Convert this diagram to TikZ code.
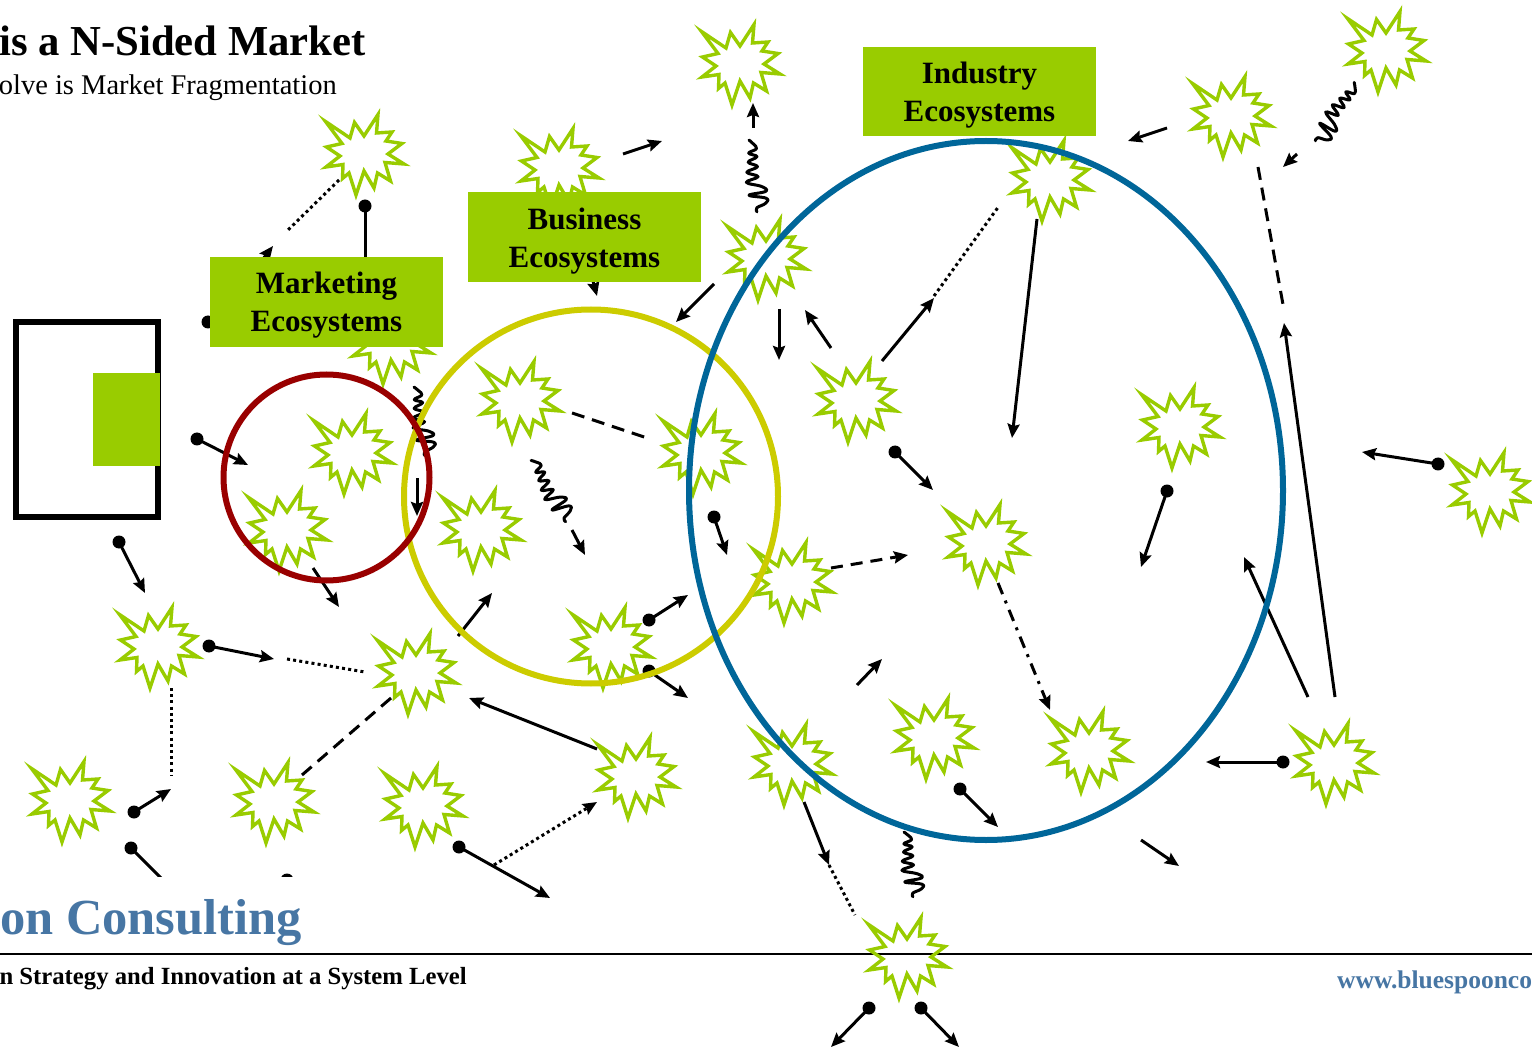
\documentclass[tikz,border=0pt]{standalone}
\usepackage{fontspec}
\setmainfont{Liberation Serif}
\usetikzlibrary{arrows.meta}
\definecolor{leaf}{HTML}{99CC00}
\definecolor{ringred}{HTML}{990000}
\definecolor{ringyellow}{HTML}{CCCC00}
\definecolor{ringblue}{HTML}{006699}
\definecolor{brandblue}{HTML}{4776A4}
\tikzset{
  burst/.pic={\draw[leaf,line width=3.4pt,miter limit=10]
    (-39.5,-31.5)--(-15,-15)--(-10.5,-30.5)--(-1,-17)--(13,-38.5)--(11.5,-20)--(27,-21)--(21,-12)--(37,-9.5)--(23,1)--(39,11)--(20,9.5)--(25.5,28)--(12.5,20)--(9,35)--(-1,18)--(-9,42)--(-16,20)--(-22.5,25.5)--(-22,11.5)--(-39,14)--(-25,3)--(-38.5,-6)--(-23,-9.5)--cycle;},
  solidarrow/.style={line width=3pt,-{Stealth[length=14pt,width=12pt,inset=2pt]}},
  dotarrow/.style={solidarrow,dash pattern=on 3pt off 3.2pt},
  dasharrow/.style={solidarrow,dash pattern=on 12pt off 8pt},
  dashdotarrow/.style={solidarrow,dash pattern=on 12pt off 7pt on 3pt off 7pt},
  dotline/.style={line width=3pt,dash pattern=on 3pt off 3.2pt},
  dashline/.style={line width=3pt,dash pattern=on 13pt off 8pt},
  plainline/.style={line width=3pt},
  enddot/.style={circle,fill=black,inner sep=0pt,minimum size=13pt},
  squiggle/.style={line width=3pt,line cap=round,line join=round},
  ring/.style={line width=6pt},
  labelbox/.style={fill=leaf,inner sep=0pt,minimum width=233pt,minimum height=90pt},
  labeltext/.style={inner sep=0pt,align=center,font=\fontsize{31}{38}\selectfont\bfseries}
}
\newcommand{\linkpath}[4]{\coordinate (#1a) at (#3); \coordinate (#1b) at (#4); \draw[#2] (#1a) -- (#1b);}
\newcommand{\dotlink}[3]{\node[enddot] (#1a) at (#2) {}; \coordinate (#1b) at (#3); \draw[solidarrow] (#1a.center) -- (#1b);}
\newcommand{\wavy}[5]{\coordinate (#1a) at (#2,#3); \coordinate (#1b) at (#4,#5);
  \pgfmathsetmacro\wavyang{atan2(#3-#5,#4-#2)}\pgfmathsetmacro\wavylen{veclen(#4-#2,#5-#3)/72}
  \draw[squiggle,shift={(#1a)},rotate=\wavyang,xscale=\wavylen]
    plot[smooth,tension=.7] coordinates {(0,1) (4,-3) (9,-6) (13,2) (17,-6) (22,3) (27,-6) (32,5) (37,-6) (42,6) (47,-9) (52,-13) (55,4) (59,-13) (64,-12) (68,-3) (72,-3)};}
\begin{document}
\begin{tikzpicture}[x=1pt,y=-1pt]
\useasboundingbox (0,0) rectangle (1532,1048);
\fill[white] (0,0) rectangle (1532,1048);
% footer rule
\coordinate (ruleL) at (0,954); \coordinate (ruleR) at (1532,954);
\draw[line width=1.4pt] (ruleL) -- (ruleR);
% stars
\foreach \n/\x/\y in {1/365/153,2/741/63,3/560/167,4/767/258,5/1051/179,6/1232/115,7/1387/50,8/392/342,
 9/353/452,10/288/529,11/521/400,12/702/452,13/482/529,14/857/400,15/793/581,16/612/646,17/417/672,18/159/646,
 19/71/800,20/275/801,21/424/805,22/637/776,23/793/763,24/935/737,25/987/543,26/1181/426,27/1090/750,28/1335/762,
 29/1491/491,30/908/956}
  \pic (star\n) at (\x,\y) {burst};
% connectors
\dotlink{c1}{365,206}{365,285}
\dotlink{c2}{208,322}{240,322}
\linkpath{c3}{solidarrow}{253,272}{273,246}
\linkpath{c4}{dotline}{339,180}{287,231}
\dotlink{c5}{197,439}{248,465}
\dotlink{c6}{119,542}{145,593}
\linkpath{c7}{solidarrow}{313,568}{339,607}
\linkpath{c8}{solidarrow}{417,478}{417,516}
\linkpath{c9}{solidarrow}{458,636}{492,593}
\linkpath{c10}{solidarrow}{572,530}{585,555}
\linkpath{c11}{dashline}{572,413}{650,439}
\dotlink{c12}{714,517}{727,555}
\dotlink{c13}{649,620}{688,595}
\dotlink{c14}{649,671}{688,698}
\linkpath{c15}{dasharrow}{831,568}{908,555}
\linkpath{c16}{solidarrow}{857,685}{882,659}
\linkpath{c17}{solidarrow}{597,749}{469,698}
\linkpath{c18}{dotarrow}{494,865}{597,802}
\dotlink{c19}{459,847}{550,898}
\dotlink{c20}{209,646}{274,659}
\linkpath{c21}{dotline}{287,659}{365,672}
\linkpath{c22}{dotline}{171,688}{171,775}
\dotlink{c23}{134,812}{171,789}
\node[enddot] (c24a) at (131,848) {}; \coordinate (c24b) at (175,892); \draw[plainline] (c24a.center) -- (c24b);
\node[enddot] (c25) at (287,880) {};
\linkpath{c26}{dashline}{391,698}{302,775}
\linkpath{c27}{solidarrow}{623,154}{662,141}
\linkpath{c28}{solidarrow}{753,128}{753,103}
\linkpath{c29}{solidarrow}{590,270}{597,296}
\linkpath{c30}{solidarrow}{714,284}{676,322}
\linkpath{c31}{solidarrow}{779,309}{779,360}
\linkpath{c32}{solidarrow}{831,348}{805,310}
\linkpath{c33}{solidarrow}{882,361}{934,298}
\linkpath{c34}{dotline}{934,296}{999,206}
\linkpath{c35}{solidarrow}{1037,219}{1012,438}
\dotlink{c36}{895,452}{933,490}
\linkpath{c37}{solidarrow}{1167,128}{1128,141}
\linkpath{c38}{solidarrow}{1297,154}{1283,167}
\linkpath{c39}{dashline}{1258,167}{1284,310}
\linkpath{c40}{solidarrow}{1335,697}{1284,323}
\linkpath{c41}{solidarrow}{1308,697}{1244,557}
\dotlink{c42}{1283,762}{1206,762}
\dotlink{c43}{1438,464}{1362,452}
\dotlink{c44}{1167,491}{1141,567}
\linkpath{c45}{dashdotarrow}{998,583}{1050,710}
\dotlink{c46}{960,789}{998,827}
\linkpath{c47}{solidarrow}{1141,840}{1179,866}
\linkpath{c48}{solidarrow}{804,802}{829,865}
\linkpath{c49}{dotline}{829,865}{855,915}
\dotlink{c50}{869,1008}{831,1047}
\dotlink{c51}{921,1008}{959,1047}
% squiggles
\wavy{q1}{750}{140}{754}{212}
\wavy{q2}{415}{387}{422}{456}
\wavy{q3}{532}{460}{563}{523}
\wavy{q4}{1355}{83}{1313}{139}
\wavy{q5}{905}{832}{910}{897}
% patch hiding the clipped connector ends
\fill[white] (0,877) rectangle (330,950);
% frame with green panel
\draw[line width=6pt] (15.5,322) rectangle (158,517);
\fill[leaf] (92.5,373) rectangle (159.5,466);
% rings
\node[draw=ringyellow,ring,circle,inner sep=0pt,minimum size=374pt] (yellowring) at (591,496.5) {};
\node[draw=ringred,ring,circle,inner sep=0pt,minimum size=206pt] (redring) at (326.5,477.5) {};
\draw[ringblue,ring] (986,490.5) ellipse [x radius=297,y radius=349.5];
% label boxes
\node[labelbox] (marketing) at (326.5,302) {};
\node[labeltext] (marketingtext) at (326.5,305.5) {Marketing\\Ecosystems};
\node[labelbox] (business) at (584.5,237) {};
\node[labeltext] (businesstext) at (584.5,241) {Business\\Ecosystems};
\node[labelbox,minimum height=89pt] (industry) at (979.5,91.5) {};
\node[labeltext] (industrytext) at (979.5,95) {Industry\\Ecosystems};
% texts
\node[anchor=base east,inner sep=0pt,font=\fontsize{42.7}{45}\selectfont\bfseries] (title) at (366,55.5) {is a N-Sided Market};
\node[anchor=base east,inner sep=0pt,font=\fontsize{28.5}{30}\selectfont] (subtitle) at (337,95) {olve is Market Fragmentation};
\node[anchor=base east,inner sep=0pt,text=brandblue,font=\fontsize{50.5}{52}\selectfont\bfseries] (brand) at (302,934.5) {on Consulting};
\node[anchor=base east,inner sep=0pt,font=\fontsize{24.7}{26}\selectfont\bfseries] (strap) at (467,984) {n Strategy and Innovation at a System Level};
\node[anchor=base west,inner sep=0pt,text=brandblue,font=\fontsize{25.5}{27}\selectfont\bfseries] (url) at (1337,988) {www.bluespoonco};
\end{tikzpicture}
\end{document}
